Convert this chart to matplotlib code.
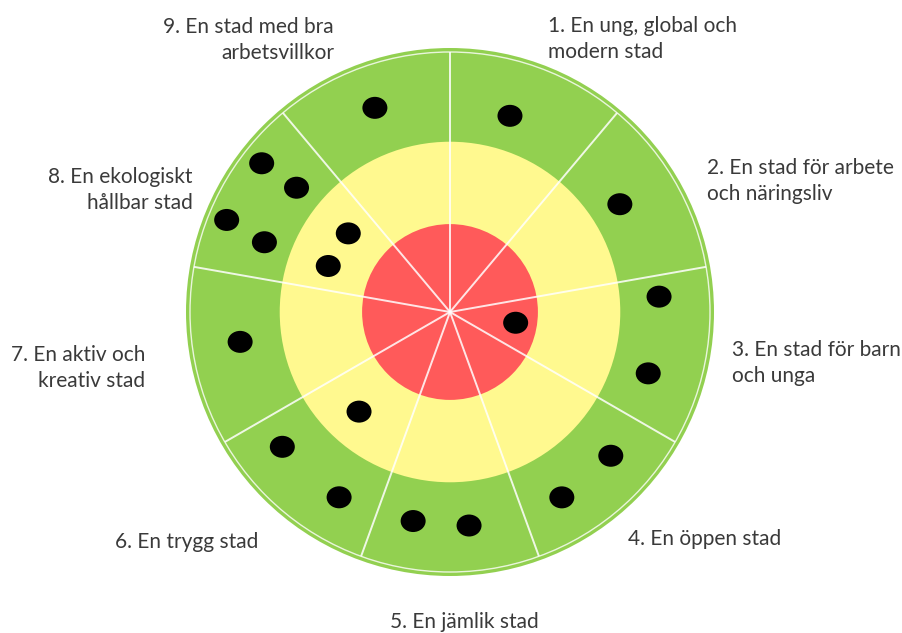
import numpy as np
import matplotlib
matplotlib.use('Agg')
import matplotlib.pyplot as plt
from matplotlib.patches import Circle, Ellipse

# sector labels, clockwise from the top
labels = [
    '1. En ung, global och\nmodern stad',
    '2. En stad för arbete\noch näringsliv',
    '3. En stad för barn\noch unga',
    '4. En öppen stad',
    '5. En jämlik stad',
    '6. En trygg stad',
    '7. En aktiv och\nkreativ stad',
    '8. En ekologiskt\nhållbar stad',
    '9. En stad med bra\narbetsvillkor',
]

# ring limits as fraction of outer radius (red, yellow, green)
ring_limits = [0.333, 0.645, 1.0]
ring_colors = ['#FF5A5A', '#FFF98F', '#92D050']

# dots: sector, angle (deg, math convention), radius (fraction of outer)
dot_sector = [1, 2, 3, 3, 3, 4, 4, 5, 5, 6, 6, 6, 7, 8, 8, 8, 8, 8, 8, 9]
dot_angle = [73.0, 32.4, 4.2, -17.2, -9.3, -41.8, -58.9, -84.9, -100.0,
             -120.9, -141.2, -132.4, 188.1, 141.7, 141.0, 157.6, 159.4,
             142.3, 159.3, 110.2]
dot_radius = [0.777, 0.762, 0.794, 0.786, 0.252, 0.817, 0.820, 0.812,
              0.804, 0.818, 0.815, 0.511, 0.803, 0.909, 0.748, 0.915,
              0.751, 0.487, 0.493, 0.824]

W, H = 903, 633
cx, cy = 450, H - 312
R = 264

fig = plt.figure(figsize=(W / 100, H / 100), dpi=100)
ax = fig.add_axes([0, 0, 1, 1])
ax.set_xlim(0, W)
ax.set_ylim(0, H)
ax.set_aspect('equal')
ax.axis('off')

# rings, outermost first
for lim, col in zip(ring_limits[::-1], ring_colors[::-1]):
    ax.add_patch(Circle((cx, cy), lim * R, facecolor=col, edgecolor='none'))

# thin white line just inside the outer edge
ax.add_patch(Circle((cx, cy), R - 4, facecolor='none', edgecolor='white',
                    lw=1.0, alpha=0.8))

# sector separators
n = len(labels)
for k in range(n):
    a = np.deg2rad(90 - 360 / n * k)
    ax.plot([cx, cx + (R - 4) * np.cos(a)], [cy, cy + (R - 4) * np.sin(a)],
            color='white', lw=1.4, alpha=0.85, solid_capstyle='butt')

# dots
for ang, rad in zip(dot_angle, dot_radius):
    a = np.deg2rad(ang)
    ax.add_patch(Ellipse((cx + rad * R * np.cos(a), cy + rad * R * np.sin(a)),
                         25, 22, facecolor='black', edgecolor='none'))

# label positions (pixels from top-left) and alignment
lab_xy = [(548, 39), (707, 181), (732, 363), (628, 539), (390, 622),
          (258, 542), (145, 368), (193, 190), (334, 40)]
lab_ha = ['left', 'left', 'left', 'left', 'left', 'right', 'right',
          'right', 'right']
for txt, (x, y), ha in zip(labels, lab_xy, lab_ha):
    ax.text(x, H - y, txt, ha=ha, va='center', fontsize=15,
            family='Lato', color='#3a3a3a', linespacing=1.35,
            multialignment=ha)

fig.savefig('out.png', dpi=100)
